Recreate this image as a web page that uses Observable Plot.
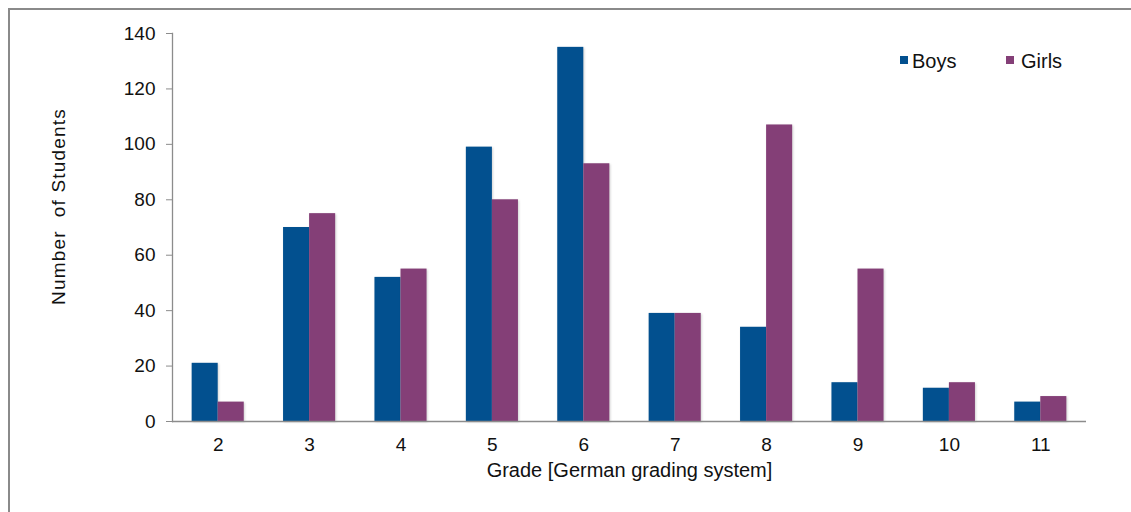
<!DOCTYPE html>
<html>
<head>
<meta charset="utf-8">
<script src="https://cdn.jsdelivr.net/npm/d3@7"></script>
<script src="https://cdn.jsdelivr.net/npm/@observablehq/plot@0.6"></script>
<style>
  html, body { margin: 0; padding: 0; background: #fff; }
  #wrap { position: relative; width: 1131px; height: 512px; overflow: hidden; font-family: "Liberation Sans", Arial, sans-serif; }
  #border { position: absolute; left: 8px; top: 8px; width: 1200px; height: 600px; border-left: 2px solid #8a8a8a; border-top: 2px solid #8a8a8a; box-sizing: border-box; pointer-events: none; }
  .lg-sw { position: absolute; width: 8px; height: 8px; }
  .lg-tx { position: absolute; font-size: 20px; line-height: 20px; color: #111; white-space: nowrap; }
  #chart g[aria-label="rect"] rect { filter: drop-shadow(1px 1px 1px rgba(0,0,0,0.18)); }
</style>
</head>
<body>
<div id="wrap">
  <div id="chart"></div>
  <div id="border"></div>
  <div id="legend"></div>
</div>
<script>
const grades = [2, 3, 4, 5, 6, 7, 8, 9, 10, 11];
const boys = [21, 70, 52, 99, 135, 39, 34, 14, 12, 7];
const girls = [7, 75, 55, 80, 93, 39, 107, 55, 14, 9];
const series = ["Boys", "Girls"];
const colors = ["#02508f", "#843f77"];
const yTicks = [0, 20, 40, 60, 80, 100, 120, 140];

const rows = [];
grades.forEach((g, i) => {
  rows.push({grade: g, sex: "Boys", value: boys[i]});
  rows.push({grade: g, sex: "Girls", value: girls[i]});
});

const half = 0.285; // bar width in grade units (style)

const chart = Plot.plot({
  width: 1131,
  height: 512,
  marginLeft: 172,
  marginRight: 45,
  marginTop: 33,
  marginBottom: 91,
  style: {fontFamily: "'Liberation Sans', Arial, sans-serif", fontSize: "18px", color: "#111", background: "transparent"},
  x: {domain: [1.5, 11.5]},
  y: {domain: [0, 140]},
  color: {domain: series, range: colors},
  marks: [
    Plot.rectY(rows, {
      x1: d => d.sex === "Boys" ? d.grade - half : d.grade,
      x2: d => d.sex === "Boys" ? d.grade : d.grade + half,
      y1: 0,
      y2: "value",
      fill: "sex"
    }),
    Plot.ruleY([0], {stroke: "#8c8c8c", strokeWidth: 1.3}),
    Plot.frame({anchor: "left", stroke: "#8c8c8c", strokeWidth: 1.3}),
    Plot.axisY({ticks: yTicks, tickSize: 6, tickPadding: 11, stroke: "#8c8c8c", label: null}),
    Plot.axisX({ticks: grades, tickSize: 0, tickPadding: 16, label: null}),
    Plot.text(["Number  of Students"], {frameAnchor: "left", textAnchor: "middle", dx: -114, dy: -21, rotate: -90, fontSize: 19, fill: "#111"}),
    Plot.text(["Grade [German grading system]"], {frameAnchor: "bottom", textAnchor: "middle", dy: 55, fontSize: 20, fill: "#111"})
  ]
});
document.getElementById("chart").appendChild(chart);

// enforce font sizes on numeric tick labels and y label spacing
chart.querySelectorAll("text").forEach(t => {
  const s = t.textContent.trim();
  if (/^\d+$/.test(s)) {
    t.setAttribute("font-size", "19");
    t.style.fontSize = "19px";
  }
  if (s.startsWith("Number")) t.style.letterSpacing = "1.2px";
});

const legend = document.getElementById("legend");
const legendPos = [{sw: 900, tx: 912}, {sw: 1006, tx: 1021}];
series.forEach((s, i) => {
  const sw = document.createElement("div");
  sw.className = "lg-sw";
  sw.style.background = colors[i];
  sw.style.left = legendPos[i].sw + "px";
  sw.style.top = "56px";
  const t = document.createElement("div");
  t.className = "lg-tx";
  t.textContent = s;
  t.style.left = legendPos[i].tx + "px";
  t.style.top = "51px";
  legend.appendChild(sw);
  legend.appendChild(t);
});
</script>
</body>
</html>
